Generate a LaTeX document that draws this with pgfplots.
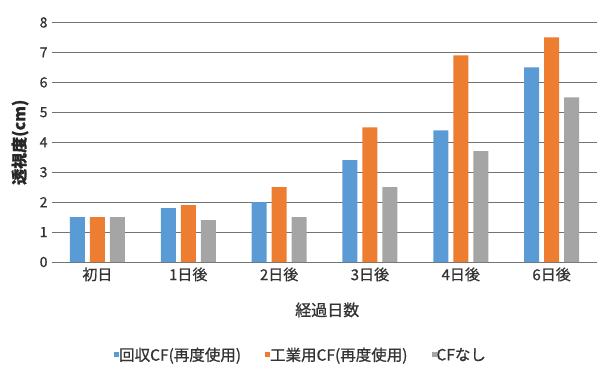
\documentclass[border=0pt]{standalone}
\usepackage{pgfplots}
\pgfplotsset{compat=1.18}
\usepackage{fontspec}
\setmainfont{Noto Sans CJK JP}[FakeBold=0.8]
\newfontfamily\medfont{Noto Sans CJK JP}[FakeBold=0.8]
\definecolor{cblue}{HTML}{5B9BD5}
\definecolor{corange}{HTML}{ED7D31}
\definecolor{cgray}{HTML}{A5A5A5}
\begin{document}
\begin{tikzpicture}[x=1bp,y=1bp]
\path[use as bounding box] (0,0) rectangle (603,384);
\begin{axis}[
  at={(52bp,122bp)}, anchor=south west,
  scale only axis, width=545bp, height=239.5bp,
  ymin=0, ymax=8, ytick={0,1,...,8},
  xmin=-0.5, xmax=5.5, xtick=data,
  xticklabels={初日,1日後,2日後,3日後,4日後,6日後},
  axis line style={draw=none},
  major tick length=0pt,
  ymajorgrids, grid style={black!55, line width=0.9bp},
  ybar=5bp, bar width=15bp,
  /pgf/number format/assume math mode=true,
  yticklabel style={font=\medfont\fontsize{14bp}{16bp}\selectfont, text=black!80, xshift=-1bp},
  xticklabel style={font=\medfont\fontsize{15bp}{17bp}\selectfont, text=black!80, yshift=-2bp},
  ylabel={\bfseries 透視度(cm)},
  ylabel style={font=\fontsize{16bp}{18bp}\selectfont, text=black!85, at={(axis description cs:-0.0587,0.50)}, anchor=center, rotate=0},
  xlabel={経過日数},
  xlabel style={font=\medfont\fontsize{16bp}{18bp}\selectfont, text=black!80, at={(axis description cs:0.505,-0.20)}, anchor=center},
  legend style={at={(axis description cs:0.457,-0.388)}, anchor=center, draw=none, fill=none,
    legend columns=3, font=\medfont\fontsize{15.5bp}{17bp}\selectfont, text=black!80,
    /tikz/every even column/.append style={column sep=22bp},
    /tikz/every odd column/.append style={column sep=-2bp}},
  legend image code/.code={\fill[#1] (0bp,-2.5bp) rectangle (5bp,2.5bp);},
]
\addplot[fill=cblue, draw=none] coordinates {(0,1.5) (1,1.8) (2,2.0) (3,3.4) (4,4.4) (5,6.5)};
\addplot[fill=corange, draw=none] coordinates {(0,1.5) (1,1.9) (2,2.5) (3,4.5) (4,6.9) (5,7.5)};
\addplot[fill=cgray, draw=none] coordinates {(0,1.5) (1,1.4) (2,1.5) (3,2.5) (4,3.7) (5,5.5)};
\legend{回収CF(再度使用),工業用CF(再度使用),CFなし}
\end{axis}
\end{tikzpicture}
\end{document}
